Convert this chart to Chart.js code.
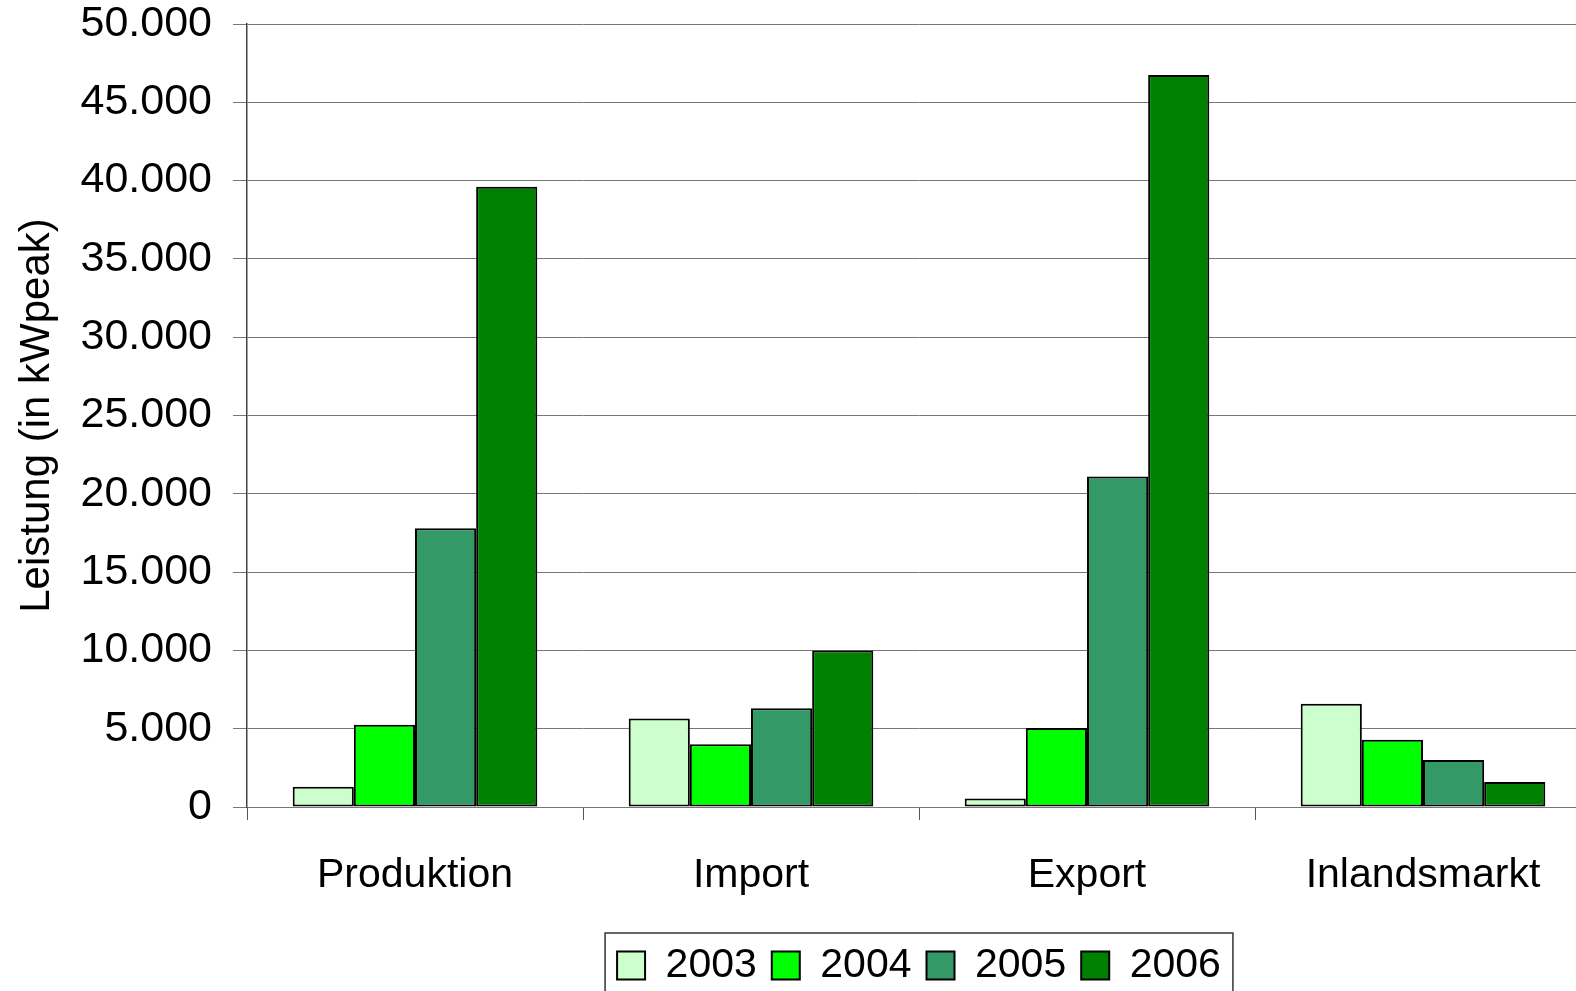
<!DOCTYPE html>
<html>
<head>
<meta charset="utf-8">
<script src="https://cdn.jsdelivr.net/npm/chart.js@4.4.1/dist/chart.umd.min.js"></script>
<style>
  html, body { margin: 0; padding: 0; background: #fff; overflow: hidden; }
</style>
</head>
<body>
<canvas id="myChart" width="1591" height="991"></canvas>
<script>
// Photovoltaik-Leistung in kWpeak
var categories = ['Produktion', 'Import', 'Export', 'Inlandsmarkt'];
var years = ['2003', '2004', '2005', '2006'];
var values2003 = [1300, 5650, 550, 6600];
var values2004 = [5250, 4000, 5050, 4300];
var values2005 = [17800, 6300, 21100, 3000];
var values2006 = [39600, 10000, 46750, 1600];
var yMin = 0, yMax = 50000, yStep = 5000;

var fill = ['#CCFFCC', '#00FF00', '#339966', '#008000'];
var FONT = "'Liberation Sans', Arial, sans-serif";

// 45000 -> "45.000"
function formatDE(v) {
  return String(v).replace(/\B(?=(\d{3})+(?!\d))/g, '.');
}

// frame around the legend row
var legendFrame = {
  id: 'legendFrame',
  afterDraw: function(chart) {
    var boxes = chart.legend.legendHitBoxes;
    if (!boxes || !boxes.length) return;
    var first = boxes[0], last = boxes[boxes.length - 1];
    var ctx = chart.ctx;
    var x0 = first.left - 12;
    var x1 = last.left + last.width + 12;
    var y0 = first.top - 12;
    ctx.save();
    ctx.strokeStyle = '#333';
    ctx.lineWidth = 1.5;
    ctx.strokeRect(x0, y0, x1 - x0, 200);
    ctx.restore();
  }
};

var series = [values2003, values2004, values2005, values2006];

var ctx = document.getElementById('myChart').getContext('2d');
const myChart = new Chart(ctx, {
  type: 'bar',
  data: {
    labels: categories,
    datasets: years.map(function(y, i) {
      return {
        label: y,
        data: series[i],
        backgroundColor: fill[i],
        borderColor: '#000',
        borderWidth: 2,
        borderSkipped: false,
        barPercentage: 1,
        categoryPercentage: 0.728
      };
    })
  },
  options: {
    responsive: false,
    animation: false,
    layout: { padding: { top: 0, left: 0, right: 0, bottom: -5 } },
    plugins: {
      tooltip: { enabled: false },
      legend: {
        position: 'bottom',
        fullSize: false,
        labels: {
          font: { family: FONT, size: 41 },
          color: '#000',
          boxWidth: 28,
          boxHeight: 28,
          padding: 15
        }
      }
    },
    scales: {
      x: {
        grid: {
          display: true,
          drawOnChartArea: false,
          offset: true,
          tickLength: 13,
          color: '#555',
          lineWidth: 1
        },
        border: { display: true, color: '#777', width: 1 },
        ticks: {
          font: { family: FONT, size: 41 },
          color: '#000',
          padding: 31,
          maxRotation: 0
        },
        afterFit: function(scale) { scale.height = 123; }
      },
      y: {
        min: yMin,
        max: yMax,
        grid: {
          color: '#777',
          lineWidth: 1,
          tickLength: 14
        },
        border: { display: true, color: '#444', width: 1.5 },
        ticks: {
          stepSize: yStep,
          font: { family: FONT, size: 43 },
          color: '#000',
          padding: 21,
          callback: function(v) { return formatDE(v); }
        },
        title: {
          display: true,
          text: 'Leistung (in kWpeak)',
          font: { family: FONT, size: 42 },
          color: '#000',
          padding: { top: 12, bottom: 0 }
        },
        afterFit: function(scale) {
          scale.width = 247;
          scale.paddingTop = 24;
          scale.paddingBottom = 0;
        }
      }
    }
  },
  plugins: [legendFrame]
});
</script>
</body>
</html>
